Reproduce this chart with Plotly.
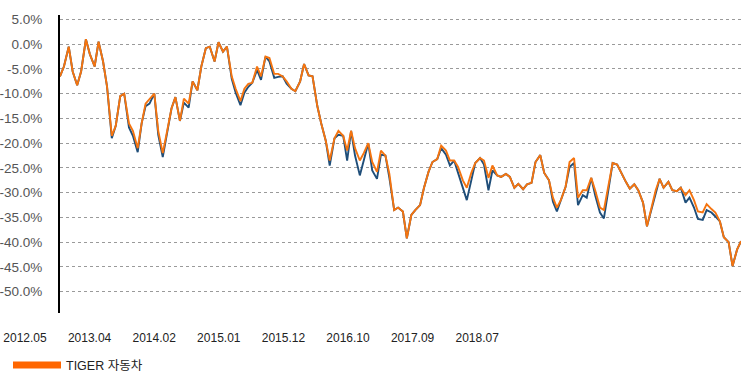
import pandas as pd
import plotly.graph_objects as go

# Semi-monthly observation dates (1st and 15th of each month), 2012-05 .. 2018-12
dates = pd.date_range("2012-05-01", "2018-12-31", freq="SMS")

tiger_auto = [
    -6.5, -4.5, -0.5, -5.5, -8.3, -5.5, 1.0, -2.0, -4.5, 0.5,
    -3.5, -8.5, -18.5, -16.5, -10.5, -10.0, -16.0, -17.5, -21.0, -16.0,
    -12.0, -11.0, -10.0, -17.5, -22.0, -18.0, -13.0, -10.7, -15.5, -11.0,
    -12.0, -7.5, -9.3, -4.5, -0.8, -0.5, -3.5, 0.4, -1.5, -0.5,
    -6.5, -9.0, -11.5, -9.0, -8.0, -7.8, -4.5, -6.5, -2.5, -2.8,
    -6.0, -6.0, -6.5, -7.5, -9.0, -9.5, -7.5, -4.0, -6.3, -6.5,
    -12.5, -16.0, -19.5, -23.5, -19.0, -17.5, -18.5, -21.5, -17.5, -21.0,
    -23.5, -22.0, -20.0, -23.8, -25.8, -21.5, -22.5, -26.2, -33.5, -33.0,
    -33.8, -39.2, -34.5, -33.5, -32.5, -29.0, -25.8, -23.8, -23.2, -20.5,
    -21.5, -23.5, -23.5, -24.8, -27.5, -29.0, -26.0, -24.0, -23.0, -23.5,
    -27.0, -24.5, -26.5, -26.8, -26.2, -26.8, -29.0, -28.2, -29.3, -28.3,
    -28.0, -23.8, -22.4, -26.0, -27.5, -31.0, -33.0, -31.5, -28.8, -23.8,
    -23.0, -31.0, -29.5, -29.5, -27.0, -29.5, -33.0, -33.5, -28.5, -24.0,
    -24.3, -26.0, -27.8, -29.2, -28.3, -29.5, -32.0, -36.8, -33.0, -29.5,
    -27.2, -29.0, -27.8, -29.5, -29.7, -29.0, -30.5, -29.5, -31.5, -33.8,
    -34.0, -32.3, -33.3, -34.0, -35.8, -39.0, -40.0, -44.8, -41.5, -39.8,
]

benchmark = [
    -6.5, -4.5, -0.5, -5.5, -8.3, -5.5, 1.0, -2.0, -4.5, 0.5,
    -3.5, -8.5, -19.0, -16.5, -10.5, -10.0, -16.8, -18.5, -21.8, -16.0,
    -12.5, -12.0, -10.0, -18.3, -22.8, -18.5, -13.0, -10.7, -15.5, -11.8,
    -12.8, -7.5, -9.3, -4.5, -0.8, -0.5, -3.5, 0.4, -1.5, -0.5,
    -7.0, -9.8, -12.3, -9.8, -8.6, -7.8, -5.2, -7.2, -2.5, -3.5,
    -6.8, -6.6, -6.5, -8.0, -9.0, -9.5, -7.5, -4.0, -6.3, -6.5,
    -12.5, -16.0, -19.5, -24.5, -19.0, -18.3, -18.5, -23.5, -17.5, -22.5,
    -26.5, -23.5, -20.0, -25.5, -27.2, -22.3, -22.5, -27.0, -33.5, -33.0,
    -33.8, -39.2, -34.5, -33.5, -32.5, -29.0, -25.8, -23.8, -23.2, -21.0,
    -22.3, -24.5, -23.5, -26.0, -29.0, -31.5, -27.5, -24.0, -23.0, -24.3,
    -29.5, -25.5, -26.5, -26.8, -26.2, -26.8, -29.0, -28.2, -29.3, -28.3,
    -28.0, -23.8, -22.4, -26.0, -27.5, -31.8, -33.8, -31.5, -28.8, -24.8,
    -24.0, -32.5, -30.5, -31.0, -27.0, -30.5, -34.0, -35.2, -29.5, -24.0,
    -24.3, -26.0, -27.8, -29.2, -28.3, -29.5, -32.0, -36.8, -33.0, -30.0,
    -27.2, -29.0, -27.8, -29.5, -29.7, -29.0, -32.0, -31.0, -33.0, -35.3,
    -35.5, -33.5, -34.0, -34.8, -35.8, -39.0, -40.0, -44.8, -41.5, -39.8,
]

y_tick_values = [5, 0, -5, -10, -15, -20, -25, -30, -35, -40, -45, -50]
y_tick_labels = ["5.0%", "0.0%", "-5.0%", "-10.0%", "-15.0%", "-20.0%",
                 "-25.0%", "-30.0%", "-35.0%", "-40.0%", "-45.0%", "-50.0%"]
x_tick_labels = ["2012.05", "2013.04", "2014.02", "2015.01",
                 "2015.12", "2016.10", "2017.09", "2018.07"]

series_name = "TIGER 자동차"
orange = "#F5740F"
navy = "#1F4E79"

fig = go.Figure()
fig.add_trace(go.Scatter(x=dates, y=benchmark, mode="lines",
                         line=dict(color=navy, width=1.9),
                         showlegend=False, hoverinfo="skip"))
fig.add_trace(go.Scatter(x=dates, y=tiger_auto, mode="lines",
                         line=dict(color=orange, width=1.9),
                         showlegend=False, name=series_name))
# legend entry (thick swatch like the original)
fig.add_trace(go.Scatter(x=[None], y=[None], mode="lines",
                         line=dict(color="#FF6600", width=7),
                         name=series_name, showlegend=True))
# carrier for the category label axis (own invisible y axis)
fig.add_trace(go.Scatter(x=[], y=[], xaxis="x2", yaxis="y2",
                         showlegend=False, hoverinfo="skip"))

fig.update_layout(
    width=746, height=376,
    margin=dict(l=0, r=0, t=15, b=63, autoexpand=False),
    paper_bgcolor="white", plot_bgcolor="rgba(0,0,0,0)",
    font=dict(family="Liberation Sans, Arial, sans-serif", color="#333"),
    xaxis=dict(type="date", domain=[60 / 746, 741 / 746],
               range=["2012-05-01", "2018-12-15"], anchor="y",
               showgrid=False, zeroline=False, showline=False,
               showticklabels=False, ticks="", automargin=False),
    yaxis=dict(range=[-54.3, 5.9], tickvals=y_tick_values, ticktext=y_tick_labels,
               anchor="x", domain=[0, 1],
               showgrid=True, gridcolor="#9a9a9a", griddash="dot", gridwidth=1,
               zeroline=False, showline=True, linecolor="black", linewidth=2,
               ticks="", ticklabelstandoff=13, automargin=False,
               tickfont=dict(family="Liberation Sans, Arial, sans-serif",
                             size=13.5, color="#555")),
    xaxis2=dict(domain=[0, 1], anchor="y2",
                range=[-25 / 64.6, 721 / 64.6],
                tickvals=list(range(len(x_tick_labels))),
                ticktext=x_tick_labels, ticklabeloverflow="allow",
                showgrid=False, zeroline=False, showline=False, ticks="",
                ticklabelstandoff=16, automargin=False,
                tickfont=dict(family="Liberation Sans, Arial, sans-serif",
                              size=12, color="#222")),
    yaxis2=dict(domain=[0, 0.01], anchor="x2", visible=False,
                showgrid=False, zeroline=False, range=[0, 1]),
    legend=dict(x=8 / 746, y=-0.125, xanchor="left", yanchor="top",
                orientation="h", itemwidth=48,
                font=dict(family="Liberation Sans, Noto Sans CJK KR, sans-serif",
                          size=12.5, color="#222"),
                bgcolor="rgba(0,0,0,0)"),
)

fig.write_html("out.html",
               config={"displayModeBar": False},
               post_script="document.body.style.margin='0';document.body.style.padding='0';")
